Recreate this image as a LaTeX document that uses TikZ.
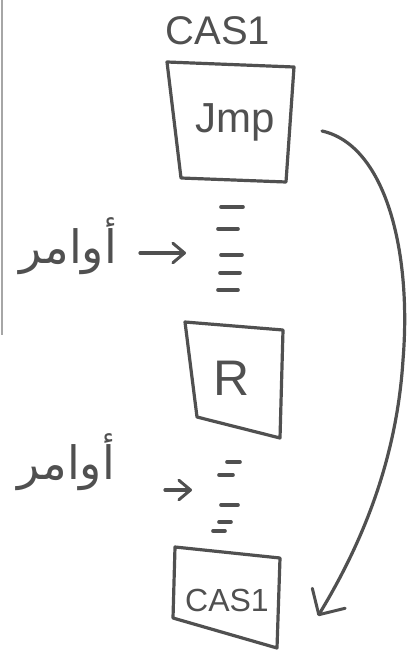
\documentclass[tikz,border=0pt]{standalone}
\usepackage{fontspec}
\setmainfont{Liberation Sans}
\newfontfamily\arabicfont[Script=Arabic]{DejaVu Sans}
\TeXXeTstate=1
\usetikzlibrary{arrows.meta}
\definecolor{pencil}{HTML}{505050}
\tikzset{
  pen/.style={draw=pencil, line width=3.2pt, line cap=round, line join=round},
  lbl/.style={text=pencil, inner sep=0pt, font=\fontsize{40}{44}\selectfont},
  dashmark/.style={draw=pencil, line width=3.6pt, line cap=round},
  handtip/.style={-{Straight Barb[angle=90:24pt 1, line width=3pt, round]}},
  smalltip/.style={-{Straight Barb[angle=80:12pt 1, line width=3pt, round]}}
}
\begin{document}
\begin{tikzpicture}[x=1pt,y=-1pt]
\useasboundingbox (0,0) rectangle (413,653);
% left border
\draw[draw=black!35, line width=2pt] (2,0) -- (2,335);
% title
\node[lbl] (title) at (218,31) {CAS1};
% Jmp box
\node[lbl, font=\fontsize{42}{46}\selectfont] (jmp) at (235,122) {Jmp};
\draw[pen] (167,62) -- (294,67) -- (286,182) -- (181,178) -- cycle;
\coordinate (jmpright) at (322,131);
% dashes 1
\foreach \y/\a/\b in {207/221/243, 229/218/238, 255/221/242, 273/220/240, 290/218/238}
  \draw[dashmark] (\a,\y) -- (\b,\y);
% arabic label 1
\node[lbl, font=\arabicfont\fontsize{46}{50}\selectfont] (ar1) at (68,246) {\beginR أوامر\endR};
\coordinate (a1s) at (140,253);
\coordinate (a1e) at (186,253);
\draw[pen, smalltip] (a1s) -- (a1e);
% R box
\node[lbl, font=\fontsize{50}{54}\selectfont] (r) at (232,378) {R};
\draw[pen] (185,322) -- (283,330) -- (280,438) -- (197,417) -- cycle;
% dashes 2
\foreach \y/\a/\b in {462/227/240, 475/219/233, 505/221/238, 522/219/231, 531/213/225}
  \draw[dashmark] (\a,\y) -- (\b,\y);
% arabic label 2
\node[lbl, font=\arabicfont\fontsize{46}{50}\selectfont] (ar2) at (66,462) {\beginR أوامر\endR};
\coordinate (a2s) at (165,490);
\coordinate (a2e) at (192,490);
\draw[pen, smalltip] (a2s) -- (a2e);
% CAS1 box
\node[lbl, font=\fontsize{32}{36}\selectfont] (cas) at (227,600) {CAS1};
\draw[pen] (175,547) -- (280,558) -- (277,648) -- (173,618) -- cycle;
\coordinate (casright) at (318,616);
% curved arrow
\draw[pen, handtip] (jmpright) .. controls (385,145) and (412,250) .. (403,360)
   .. controls (396,470) and (355,555) .. (casright);
\end{tikzpicture}
\end{document}
